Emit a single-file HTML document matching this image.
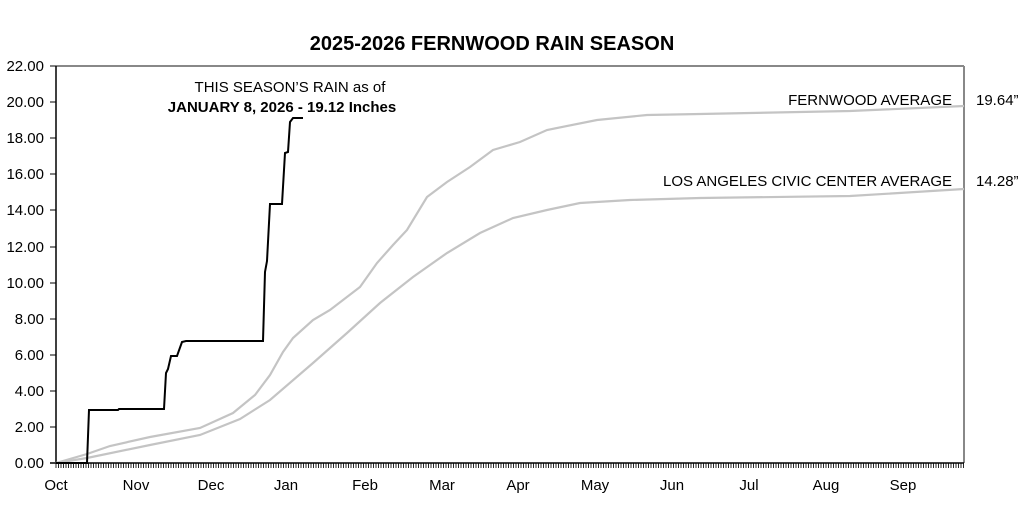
<!DOCTYPE html>
<html><head><meta charset="utf-8"><style>body{margin:0;background:#fff}svg{display:block}text{font-family:"Liberation Sans",sans-serif}</style></head><body>
<svg width="1024" height="505" viewBox="0 0 1024 505" xmlns="http://www.w3.org/2000/svg">
<text x="492" y="50" font-size="20" font-weight="bold" text-anchor="middle">2025-2026 FERNWOOD RAIN SEASON</text>
<g font-size="15" text-anchor="end">
<text x="44" y="71">22.00</text><text x="44" y="107">20.00</text><text x="44" y="143">18.00</text><text x="44" y="179">16.00</text><text x="44" y="215">14.00</text><text x="44" y="252">12.00</text><text x="44" y="288">10.00</text><text x="44" y="324">8.00</text><text x="44" y="360">6.00</text><text x="44" y="396">4.00</text><text x="44" y="432">2.00</text><text x="44" y="468">0.00</text>
</g>
<g stroke="#000" stroke-width="1"><line x1="50" y1="66" x2="56" y2="66"/><line x1="50" y1="102" x2="56" y2="102"/><line x1="50" y1="138" x2="56" y2="138"/><line x1="50" y1="174" x2="56" y2="174"/><line x1="50" y1="210" x2="56" y2="210"/><line x1="50" y1="247" x2="56" y2="247"/><line x1="50" y1="283" x2="56" y2="283"/><line x1="50" y1="319" x2="56" y2="319"/><line x1="50" y1="355" x2="56" y2="355"/><line x1="50" y1="391" x2="56" y2="391"/><line x1="50" y1="427" x2="56" y2="427"/></g>
<line x1="56" y1="66" x2="964" y2="66" stroke="#888" stroke-width="2"/>
<line x1="964" y1="66" x2="964" y2="463" stroke="#888" stroke-width="2"/>
<line x1="56" y1="66" x2="56" y2="463" stroke="#000" stroke-width="1.5"/>
<g stroke="#111" stroke-width="0.9">
<path d="M56 463V468M58.5 463V468M61 463V468M63.5 463V468M66 463V468M68.5 463V468M71 463V468M73.5 463V468M76 463V468M78.5 463V468" id="a"/>
<use href="#a" x="25"/><use href="#a" x="50"/><use href="#a" x="75"/><use href="#a" x="100"/><use href="#a" x="125"/><use href="#a" x="150"/><use href="#a" x="175"/><use href="#a" x="200"/><use href="#a" x="225"/><use href="#a" x="250"/><use href="#a" x="275"/><use href="#a" x="300"/><use href="#a" x="325"/><use href="#a" x="350"/><use href="#a" x="375"/><use href="#a" x="400"/><use href="#a" x="425"/><use href="#a" x="450"/><use href="#a" x="475"/><use href="#a" x="500"/><use href="#a" x="525"/><use href="#a" x="550"/><use href="#a" x="575"/><use href="#a" x="600"/><use href="#a" x="625"/><use href="#a" x="650"/><use href="#a" x="675"/><use href="#a" x="700"/><use href="#a" x="725"/><use href="#a" x="750"/><use href="#a" x="775"/><use href="#a" x="800"/><use href="#a" x="825"/><use href="#a" x="850"/><use href="#a" x="875"/>
<path d="M956 463V468M958.5 463V468M961 463V468M963.5 463V468"/>
</g>
<line x1="50" y1="463" x2="964" y2="463" stroke="#000" stroke-width="1.5"/>
<g font-size="15" text-anchor="middle">
<text x="56" y="490">Oct</text><text x="136" y="490">Nov</text><text x="211" y="490">Dec</text><text x="286" y="490">Jan</text><text x="365" y="490">Feb</text><text x="442" y="490">Mar</text><text x="518" y="490">Apr</text><text x="595" y="490">May</text><text x="672" y="490">Jun</text><text x="749" y="490">Jul</text><text x="826" y="490">Aug</text><text x="903" y="490">Sep</text>
</g>
<polyline fill="none" stroke="#c4c4c4" stroke-width="2.2" points="56,463 87,454 110,446 150,437 200,428 233,413 255,395 270,375 283,352 293,338 313,320 330,310 360,287 377,263 393,245 407,230 427,197 447,182 470,167 493,150 520,142 547,130 597,120 647,115 700,114 850,111 964,106"/>
<polyline fill="none" stroke="#c4c4c4" stroke-width="2.2" points="56,463 87,458 150,445 200,435 240,419 270,400 313,363 347,333 380,303 413,277 447,253 480,233 513,218 547,210 580,203 630,200 700,198 850,196 964,189"/>
<polyline fill="none" stroke="#000" stroke-width="2" points="56,463 87,463 89,410 118,410 119,409 164,409 166,373 168,369 171,356 177,356 182,342 186,341 263,341 265,272 267,261 270,204 282,204 285,153 288,152 290,122 293,118 303,118"/>
<text x="290" y="92" font-size="15" text-anchor="middle">THIS SEASON’S RAIN as of</text>
<text x="282" y="112" font-size="15" font-weight="bold" text-anchor="middle">JANUARY 8, 2026 - 19.12 Inches</text>
<text x="952" y="105" font-size="15" text-anchor="end">FERNWOOD AVERAGE</text>
<text x="952" y="186" font-size="15" text-anchor="end">LOS ANGELES CIVIC CENTER AVERAGE</text>
<text x="976" y="105" font-size="15">19.64”</text>
<text x="976" y="186" font-size="15">14.28”</text>
</svg>
</body></html>
